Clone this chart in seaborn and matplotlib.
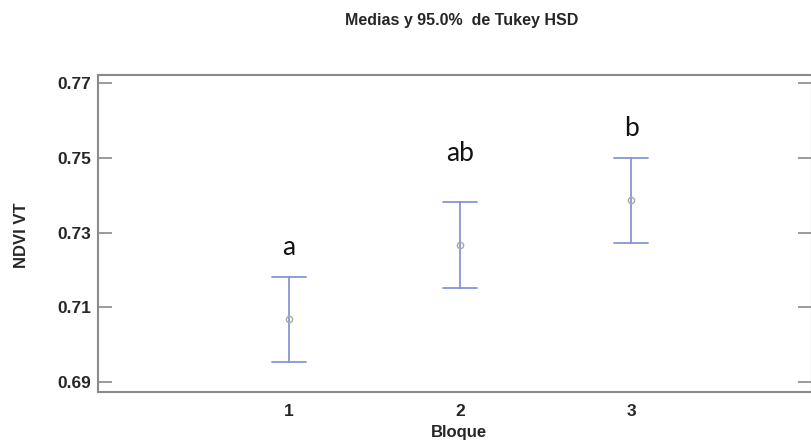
import matplotlib
matplotlib.use("Agg")
import matplotlib.pyplot as plt
import pandas as pd
import seaborn as sns

# Tukey HSD means and 95% interval half-widths per block
bloques = ["1", "2", "3"]
medias = [0.7068, 0.7268, 0.7386]
semi_intervalo = [0.0114, 0.0115, 0.0114]
letras = ["a", "ab", "b"]
y_ticks = [0.69, 0.71, 0.73, 0.75, 0.77]

sns.set_style("white")
plt.rcParams["font.family"] = ["Liberation Sans", "DejaVu Sans"]

# lower / mean / upper for each block: median = mean, full range = interval
filas = []
for b, m, h in zip(bloques, medias, semi_intervalo):
    for v in (m - h, m, m + h):
        filas.append({"Bloque": b, "NDVI VT": v})
df = pd.DataFrame(filas)

W, H = 812, 445
fig = plt.figure(figsize=(W / 100, H / 100), dpi=100)
ax = fig.add_axes([98 / W, 1 - 392 / H, 1 - 98 / W, (392 - 75) / H])

sns.pointplot(
    data=df, x="Bloque", y="NDVI VT",
    estimator="median", errorbar=("pi", 100),
    capsize=0.2, linestyle="none", marker="o", markersize=4.5,
    color="#8796d4", err_kws={"linewidth": 1.3}, ax=ax,
)
for ln in ax.lines:
    if ln.get_marker() == "o":
        ln.set_markerfacecolor("none")
        ln.set_markeredgecolor("#a8a8a8")
        ln.set_markeredgewidth(1.0)
        ln.set_zorder(5)

# group letters above each interval
sep = [0.0079, 0.0129, 0.0077]
for i, (m, h, t, s) in enumerate(zip(medias, semi_intervalo, letras, sep)):
    ax.text(i, m + h + s, t, ha="center", va="center", fontsize=19,
            family=["Lato", "DejaVu Sans"], color="#111111")

ax.set_xlim(-1.117, 3.058)
ax.set_ylim(0.6874, 0.7721)
ax.set_yticks(y_ticks)
ax.set_yticklabels([f"{v:.2f}" for v in y_ticks], fontweight="bold", fontsize=12.5)
for lbl in ax.get_xticklabels():
    lbl.set_fontweight("bold")
    lbl.set_fontsize(12.5)

ax.tick_params(axis="y", direction="in", length=10, width=1.2, color="#8a8a8a",
               left=True, right=True, pad=5)
ax.tick_params(axis="x", length=0, pad=9)

for sp in ax.spines.values():
    sp.set_visible(True)
    sp.set_color("#8a8a8a")
    sp.set_linewidth(1.5)

ax.set_ylabel("NDVI VT", fontweight="bold", fontsize=12)
ax.yaxis.set_label_coords((22 - 98) / 714, (392 - 235) / 317)
ax.yaxis.label.set_va("center")
ax.set_xlabel("Bloque", fontweight="bold", fontsize=12)
ax.xaxis.set_label_coords((459 - 98) / 714, (392 - 432) / 317)
ax.xaxis.label.set_va("center")

fig.text(462 / W, 1 - 20 / H, "Medias y 95.0%  de Tukey HSD", ha="center",
         va="center", fontweight="bold", fontsize=11.5)

fig.savefig("out.png", dpi=100)
